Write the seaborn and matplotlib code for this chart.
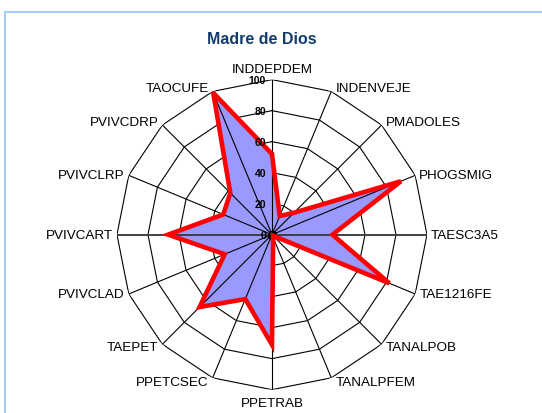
import numpy as np
import matplotlib
matplotlib.use("Agg")
import matplotlib.pyplot as plt
import seaborn as sns

categories = ["INDDEPDEM", "INDENVEJE", "PMADOLES", "PHOGSMIG", "TAESC3A5",
              "TAE1216FE", "TANALPOB", "TANALPFEM", "PPETRAB", "PPETCSEC",
              "TAEPET", "PVIVCLAD", "PVIVCART", "PVIVCLRP", "PVIVCDRP", "TAOCUFE"]
values = [52, 13, 20, 90, 39, 82, 1, 2, 71, 45, 66, 33, 67, 34, 38, 99]
ring_levels = [20, 40, 60, 80, 100]
radial_labels = ["0", "20", "40", "60", "80", "100"]
title = "Madre de Dios"

sns.set_style("white")
plt.rcParams['font.family'] = ['Liberation Sans', 'DejaVu Sans']

fig = plt.figure(figsize=(5.42, 4.14), dpi=100)
fig.patch.set_facecolor("white")

# light blue frame
frame = plt.Rectangle((5 / 542, -0.05), 1.2, 1 - 12.5 / 414 + 0.05,
                      transform=fig.transFigure, fill=False,
                      edgecolor="#a6cdf7", linewidth=1.5, zorder=0)
fig.patches.append(frame)

ax = fig.add_axes([0.2158, 0.0563, 0.572, 0.749], projection="polar")
ax.set_theta_zero_location("N")
ax.set_theta_direction(-1)
ax.set_ylim(0, 100)
ax.grid(False)
ax.spines["polar"].set_visible(False)
ax.set_xticks([])
ax.set_yticks([])
ax.patch.set_alpha(0)

n = len(categories)
angles = np.linspace(0, 2 * np.pi, n, endpoint=False)
closed_angles = np.append(angles, angles[0])

# polygon rings
for lv in ring_levels:
    ax.plot(closed_angles, [lv] * (n + 1), color="black", lw=0.8, zorder=1)

# data fill
vals_closed = values + values[:1]
ax.fill(closed_angles, vals_closed, color="#9999ff", zorder=2)

# spokes
for i, a in enumerate(angles):
    horiz = i in (4, 12)
    ax.plot([a, a], [0, 100], color="#404040" if horiz else "black",
            lw=1.4 if horiz else 0.8, zorder=3)

# axis origin dot
ax.plot(angles, np.zeros(n), ls="none", marker="o", ms=5, color="black", zorder=3)

# data edge
ax.plot(closed_angles, vals_closed, color="#ff0000", lw=3.3, zorder=4,
        solid_joinstyle="miter")

# radial labels
for lv, lab in zip([0] + ring_levels, radial_labels):
    ax.annotate(lab, xy=(0, lv), xytext=(-6, 0), textcoords="offset pixels",
                ha="right", va="center", fontsize=7.5, fontweight="bold",
                color="black", zorder=5)

# category labels
for a, lab in zip(angles, categories):
    s, c = np.sin(a), np.cos(a)
    if abs(s) < 1e-6:
        ha = "center"
        dx = 0
        if c > 0:
            va, dy = "bottom", 5
        else:
            va, dy = "top", -7
    else:
        ha = "left" if s > 0 else "right"
        dx = 4 if s > 0 else -4
        va = "center"
        dy = 4 * c if abs(c) > 0.5 else 0
    ax.annotate(lab, xy=(a, 100), xytext=(dx, dy), textcoords="offset pixels",
                ha=ha, va=va, fontsize=9.7, color="black", zorder=5,
                annotation_clip=False)

fig.text(262 / 542, 1 - 40 / 414, title, ha="center", va="center",
         fontsize=11.5, fontweight="bold", color="#123c6e")

fig.savefig("out.png", dpi=100)
